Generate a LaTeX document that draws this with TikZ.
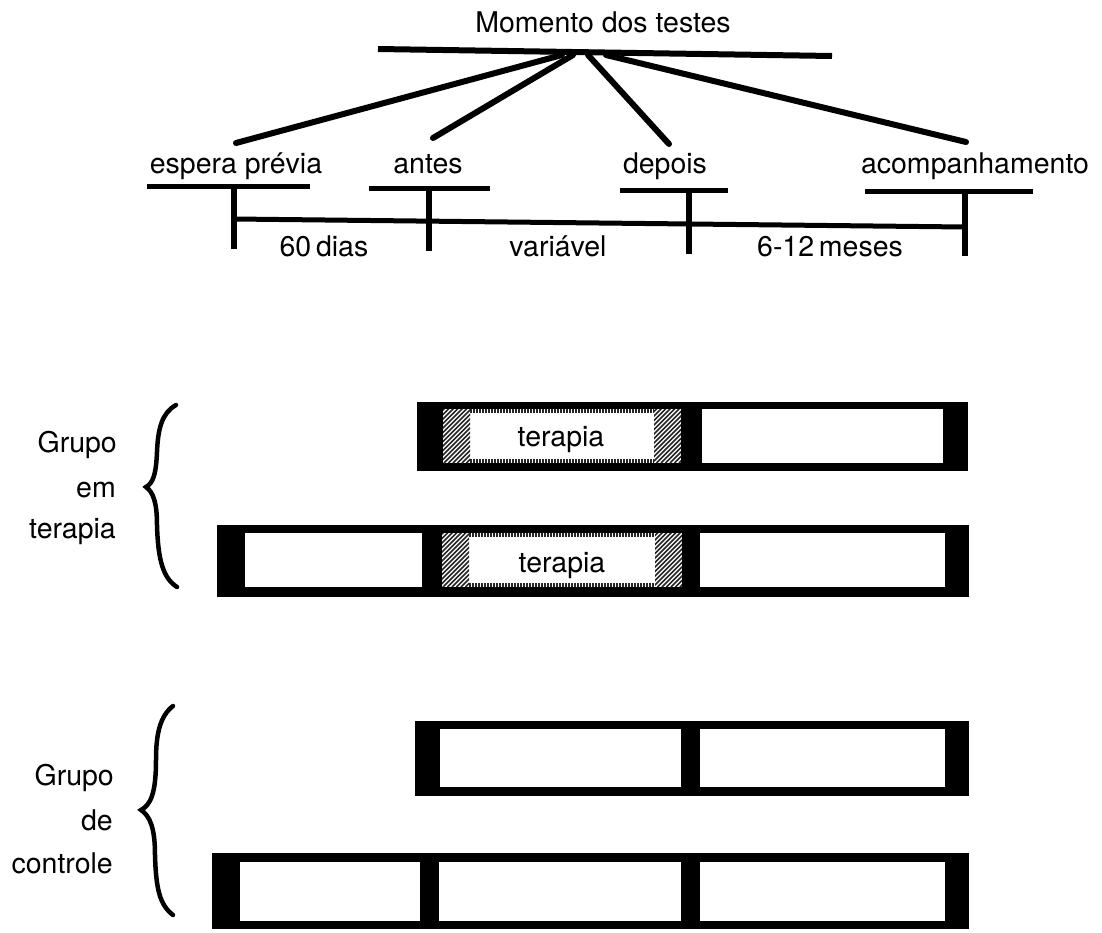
\documentclass[tikz,border=0pt]{standalone}
\usepackage{fontspec}
\setmainfont{TeX Gyre Heros}
\begin{document}
\begin{tikzpicture}[x=1pt,y=-1pt,
  lbl/.style={font=\fontsize{28.5}{34}\selectfont, inner sep=0pt, anchor=base},
  grp/.style={font=\fontsize{28.5}{34}\selectfont, inner sep=0pt, anchor=base east},
  thick line/.style={line width=6pt, line cap=round},
  under line/.style={line width=5pt},
  tick line/.style={line width=6pt},
  brace line/.style={line width=4.5pt, line cap=round},
  hatchline/.style={black!85, line width=1.6pt},
  fringe/.style={black!85, line width=4.5pt, dash pattern=on 1.5pt off 1.5pt}
]
\useasboundingbox (0,0) rectangle (1102,932);

% ---------- top: moments of the tests ----------
\node[lbl] (title) at (603,32) {Momento dos testes};
\coordinate (barL) at (378,49);
\coordinate (barR) at (832,56);
\draw[thick line, line cap=butt] (barL) -- (barR);

\coordinate (h1) at (562,55);
\coordinate (h2) at (573,55);
\coordinate (h3) at (588,55);
\coordinate (h4) at (606,55);
\coordinate (e1) at (236,143);
\coordinate (e2) at (433,138);
\coordinate (e3) at (669,144);
\coordinate (e4) at (966,142);
\draw[thick line] (h1) -- (e1);
\draw[thick line] (h2) -- (e2);
\draw[thick line] (h3) -- (e3);
\draw[thick line] (h4) -- (e4);

\node[lbl] (espera) at (236,173) {espera prévia};
\node[lbl] (antes)  at (428,173) {antes};
\node[lbl] (depois) at (665,173) {depois};
\node[lbl] (acomp)  at (975,173) {acompanhamento};

\draw[under line] (147,186) -- (310,186);
\draw[under line] (369,188) -- (490,188);
\draw[under line] (620,190) -- (728,190);
\draw[under line] (865,191) -- (1033,191);

\coordinate (t1) at (234,219);
\coordinate (t4) at (965,227);
\draw[line width=5pt] (t1) -- (t4);
\draw[tick line] (234,186) -- (234,249);
\draw[tick line] (429,188) -- (429,251);
\draw[tick line] (689,190) -- (689,254);
\draw[tick line] (965,191) -- (965,256);

\node[lbl] (d60) at (324,256) {60\,dias};
\node[lbl] (var) at (558,256) {variável};
\node[lbl] (mes) at (830,256) {6-12\,meses};

% ---------- group labels and braces ----------
\node[grp] (g1a) at (117,452) {Grupo};
\node[grp] (g1b) at (116,497) {em};
\node[grp] (g1c) at (116,538) {terapia};
\node[grp] (g2a) at (114,785) {Grupo};
\node[grp] (g2b) at (113,830) {de};
\node[grp] (g2c) at (113,873) {controle};

\draw[brace line] (176,405) .. controls (162,413) and (158,428) .. (157,452)
  .. controls (156,475) and (153,483) .. (146,487)
  .. controls (153,492) and (157,502) .. (157,525)
  .. controls (158,560) and (163,578) .. (177,587);
\draw[brace line] (173,706) .. controls (160,716) and (156,734) .. (156,760)
  .. controls (156,795) and (150,805) .. (141,810)
  .. controls (150,816) and (155,828) .. (155,855)
  .. controls (156,890) and (160,905) .. (173,915);

% ---------- bars ----------
% bar 1
\fill[black] (417,402) rectangle (968,471);
\fill[white] (443,409) rectangle (681,463);
\fill[white] (702,409) rectangle (943,463);
% bar 2
\fill[black] (217,525) rectangle (969,597);
\fill[white] (245,533) rectangle (422,587);
\fill[white] (442,533) rectangle (682,587);
\fill[white] (700,533) rectangle (945,587);
% bar 3
\fill[black] (415,721) rectangle (969,796);
\fill[white] (440,729) rectangle (681,787);
\fill[white] (700,729) rectangle (945,787);
% bar 4
\fill[black] (212,853) rectangle (969,929);
\fill[white] (240,862) rectangle (420,921);
\fill[white] (439,862) rectangle (681,921);
\fill[white] (700,862) rectangle (945,921);

% hatching of the therapy cells
\foreach \xa/\xb/\ya/\yb in {443/681/409/463, 442/682/533/587}{
  \begin{scope}
    \clip (\xa,\ya) rectangle (\xa+27,\yb);
    \foreach \i in {-80,-75.5,...,40} \draw[hatchline] (\xa+\i,\yb) -- ++(70,-70);
  \end{scope}
  \begin{scope}
    \clip (\xb-27,\ya) rectangle (\xb,\yb);
    \foreach \i in {-110,-105.5,...,10} \draw[hatchline] (\xb+\i,\yb) -- ++(70,-70);
  \end{scope}
  \draw[fringe] (\xa+27,\ya+2) -- (\xb-27,\ya+2);
  \draw[fringe] (\xa+27,\yb-2) -- (\xb-27,\yb-2);
}

\node[lbl] (ter1) at (561,446) {terapia};
\node[lbl] (ter2) at (562,572) {terapia};
\end{tikzpicture}
\end{document}
